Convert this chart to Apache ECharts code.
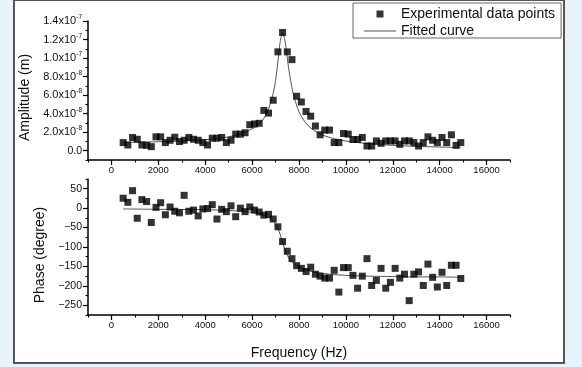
<!DOCTYPE html>
<html><head><meta charset="utf-8">
<script src="https://cdn.jsdelivr.net/npm/echarts@6/dist/echarts.min.js"></script>
<style>html,body{margin:0;padding:0;background:#e6f3fa}#c{width:582px;height:367px}</style>
</head><body><div id="c"></div>
<script>
// Frequencies of the measured points (Hz)
const freq = [500,700,900,1100,1300,1500,1700,1900,2100,2300,2500,2700,2900,3100,3300,3500,3700,3900,4100,4300,4500,4700,4900,5100,5300,5500,5700,5900,6100,6300,6500,6700,6900,7100,7300,7500,7700,7900,8100,8300,8500,8700,8900,9100,9300,9500,9700,9900,10100,10300,10500,10700,10900,11100,11300,11500,11700,11900,12100,12300,12500,12700,12900,13100,13300,13500,13700,13900,14100,14300,14500,14700,14900];
// Measured amplitude (m)
const amplitude = [0.88e-8,0.62e-8,1.43e-8,1.24e-8,0.62e-8,0.58e-8,0.44e-8,1.5e-8,1.5e-8,0.88e-8,
  1.13e-8,1.46e-8,0.99e-8,1.13e-8,1.43e-8,1.24e-8,1.13e-8,0.88e-8,0.62e-8,1.35e-8,
  1.35e-8,1.43e-8,0.88e-8,1.13e-8,1.79e-8,1.79e-8,1.94e-8,2.81e-8,2.89e-8,2.96e-8,
  4.35e-8,4.06e-8,5.45e-8,10.67e-8,12.76e-8,10.67e-8,9.83e-8,5.88e-8,5.26e-8,4.24e-8,
  3.73e-8,2.67e-8,1.72e-8,2.23e-8,2.23e-8,0.88e-8,0.88e-8,1.86e-8,1.79e-8,1.21e-8,
  1.21e-8,1.43e-8,0.51e-8,0.51e-8,1.06e-8,0.8e-8,1.06e-8,1.06e-8,1.06e-8,0.69e-8,
  1.06e-8,1.06e-8,0.88e-8,0.51e-8,0.88e-8,1.5e-8,1.13e-8,0.88e-8,1.43e-8,0.88e-8,
  1.72e-8,0.58e-8,0.88e-8];
// Measured phase (degree)
const phase = [25.5,15,45,-26,22,17,-37,2,14,-17,
  3,-8,-12,33,-8,-5,-20,-2,-1,9,
  -28,-3,-9,6,-22,0,-9,3,-5,-10,
  -18,-16,-28,-48,-86,-111,-130,-148,-155,-163,
  -152,-170,-175,-180,-180,-160,-216,-153,-153,-173,
  -206,-175,-130,-199,-186,-155,-206,-191,-155,-180,
  -170,-238,-170,-164,-199,-144,-178,-203,-165,-199,
  -147,-147,-181];
// Fitted amplitude curve
const fitAmpFreq = [500,1000,2000,3000,4000,4500,5000,5500,6000,6300,6500,6700,6900,7000,7100,7200,7300,7400,7500,7600,7700,7800,8000,8200,8500,9000,9500,10000,11000,12000,13000,14000,14900];
const fitAmp = [0.9e-8,0.92e-8,0.97e-8,1.05e-8,1.2e-8,1.3e-8,1.5e-8,1.8e-8,2.35e-8,2.9e-8,3.5e-8,4.5e-8,6.2e-8,7.6e-8,9.6e-8,11.8e-8,12.7e-8,11.9e-8,10.0e-8,8.2e-8,6.8e-8,5.7e-8,4.2e-8,3.3e-8,2.45e-8,1.7e-8,1.3e-8,1.05e-8,0.75e-8,0.58e-8,0.47e-8,0.4e-8,0.36e-8];
// Fitted phase curve
const fitPhaseFreq = [500,2000,4000,5000,5500,6000,6300,6600,6800,7000,7100,7200,7300,7400,7500,7600,7800,8000,8300,8600,9000,9500,10000,11000,12000,13000,14000,14900];
const fitPhase = [-2,-3,-4,-6,-8,-11,-15,-21,-28,-40,-52,-68,-88,-107,-121,-131,-144,-152,-159,-164,-168,-171,-173,-175,-176,-177,-177,-178];
// Major tick / label values
const xTicks = [0,2000,4000,6000,8000,10000,12000,14000,16000];
const ampTicks = [0,2e-8,4e-8,6e-8,8e-8,1e-7,1.2e-7,1.4e-7];
const phaseTicks = [-250,-200,-150,-100,-50,0,50];
// Axis ranges / minor tick steps
const xMin = -1000, xMax = 17000, xStep = 1000;
const ampMin = -1e-8, ampMax = 1.4e-7, ampStep = 1e-8;
const phMin = -275, phMax = 75, phStep = 25;

const FONT = 'Liberation Sans';
const pair = (xs, ys) => xs.map((x, i) => [x, ys[i]]);

const chart = echarts.init(document.getElementById('c'), null, {renderer: 'canvas'});

const axisLineStyle = {onZero: false, lineStyle: {color: '#000', width: 1.5}};
const majorTick = {show: true, inside: false, length: 5, lineStyle: {color: '#000', width: 1.2}};
const minorTickCfg = {show: true, inside: false, length: 2.5, lineStyle: {color: '#000', width: 1.1}};
const labelStyle = {color: '#111', fontSize: 9.5, fontFamily: FONT};
const titleStyle = {fontSize: 14, color: '#111', fontFamily: FONT};

function ampLabel(v) {
  const n = Math.round(v / 1e-8);
  if (n === 0) return '{z|0.0}';
  if (n >= 10) return '{b|' + (n / 10).toFixed(1) + 'x10}{s|-7}';
  return '{b|' + n.toFixed(1) + 'x10}{s|-8}';
}

// companion axis drawing the short minor ticks
function minorAxis(kind, gridIndex, min, max, step) {
  return {type: 'value', gridIndex, min, max, interval: step,
    position: kind === 'x' ? 'bottom' : 'left', offset: 0,
    axisLine: {show: false, onZero: false}, axisLabel: {show: false}, splitLine: {show: false},
    axisTick: minorTickCfg};
}

chart.setOption({
  backgroundColor: '#e6f3fa',
  animation: false,
  graphic: [{type: 'rect', shape: {x: 14, y: 0, width: 550, height: 363},
    style: {fill: '#fff', stroke: '#555', lineWidth: 2}, z: -10}],
  legend: {
    orient: 'vertical', left: 353, top: 3,
    backgroundColor: '#fff', borderColor: '#666', borderWidth: 1,
    padding: [4, 6, 0, 11], itemGap: 3, itemWidth: 32, itemHeight: 7,
    textStyle: {fontSize: 14, color: '#111', fontFamily: FONT},
    symbolKeepAspect: true,
    data: [
      {name: 'Experimental data points', icon: 'path://M0,0L10,0L10,10L0,10Z'},
      {name: 'Fitted curve', icon: 'path://M0,0L32,0L32,1L0,1Z', itemStyle: {color: '#555'}}
    ]
  },
  grid: [
    {left: 88, right: 72, top: 21, height: 139},
    {left: 88, right: 72, top: 179, height: 136}
  ],
  xAxis: [
    {type: 'value', gridIndex: 0, min: xMin, max: xMax, interval: xStep, position: 'bottom',
      axisLine: axisLineStyle, splitLine: {show: false},
      axisTick: Object.assign({customValues: xTicks}, majorTick),
      axisLabel: Object.assign({customValues: xTicks, margin: 5, formatter: v => String(Math.round(v))}, labelStyle)},
    {type: 'value', gridIndex: 1, min: xMin, max: xMax, interval: xStep, position: 'bottom',
      axisLine: axisLineStyle, splitLine: {show: false},
      axisTick: Object.assign({customValues: xTicks}, majorTick),
      axisLabel: Object.assign({customValues: xTicks, margin: 5, formatter: v => String(Math.round(v))}, labelStyle),
      name: 'Frequency (Hz)', nameLocation: 'middle', nameGap: 31, nameTextStyle: titleStyle},
    minorAxis('x', 0, xMin, xMax, xStep),
    minorAxis('x', 1, xMin, xMax, xStep)
  ],
  yAxis: [
    {type: 'value', gridIndex: 0, min: ampMin, max: ampMax, interval: ampStep, position: 'left',
      axisLine: axisLineStyle, splitLine: {show: false},
      axisTick: Object.assign({customValues: ampTicks}, majorTick),
      name: 'Amplitude (m)', nameLocation: 'middle', nameGap: 55,
      nameTextStyle: Object.assign({padding: [0, 14, 0, 0]}, titleStyle),
      axisLabel: Object.assign({}, labelStyle, {customValues: ampTicks, margin: 6, formatter: ampLabel,
        rich: {b: {fontSize: 11, fontFamily: FONT, color: '#111'},
               z: {fontSize: 10.5, fontFamily: FONT, color: '#111'},
               s: {fontSize: 6.5, fontFamily: FONT, color: '#111', padding: [0, 0, 7, 0]}}})
    },
    {type: 'value', gridIndex: 1, min: phMin, max: phMax, interval: phStep, position: 'left',
      axisLine: axisLineStyle, splitLine: {show: false},
      axisTick: Object.assign({customValues: phaseTicks}, majorTick),
      name: 'Phase (degree)', nameLocation: 'middle', nameGap: 38,
      nameTextStyle: Object.assign({padding: [0, 16, 0, 0]}, titleStyle),
      axisLabel: Object.assign({}, labelStyle, {customValues: phaseTicks, margin: 6, fontSize: 10.5,
        formatter: v => String(Math.round(v)).replace('-', '\u2212')})
    },
    minorAxis('y', 0, ampMin, ampMax, ampStep),
    minorAxis('y', 1, phMin, phMax, phStep)
  ],
  series: [
    {name: 'Experimental data points', type: 'scatter', xAxisIndex: 0, yAxisIndex: 0,
      symbol: 'rect', symbolSize: 7, itemStyle: {color: '#000'}, data: pair(freq, amplitude), z: 3},
    {name: 'Fitted curve', type: 'line', xAxisIndex: 0, yAxisIndex: 0, showSymbol: false, symbol: 'none',
      smooth: 0.3, lineStyle: {color: '#555', width: 1}, itemStyle: {color: '#555'}, data: pair(fitAmpFreq, fitAmp), z: 2},
    {name: 'Experimental data points', type: 'scatter', xAxisIndex: 1, yAxisIndex: 1,
      symbol: 'rect', symbolSize: 7, itemStyle: {color: '#000'}, data: pair(freq, phase), z: 3},
    {name: 'Fitted curve', type: 'line', xAxisIndex: 1, yAxisIndex: 1, showSymbol: false, symbol: 'none',
      smooth: 0.3, lineStyle: {color: '#555', width: 1}, itemStyle: {color: '#555'}, data: pair(fitPhaseFreq, fitPhase), z: 2}
  ]
});
</script>
</body></html>
